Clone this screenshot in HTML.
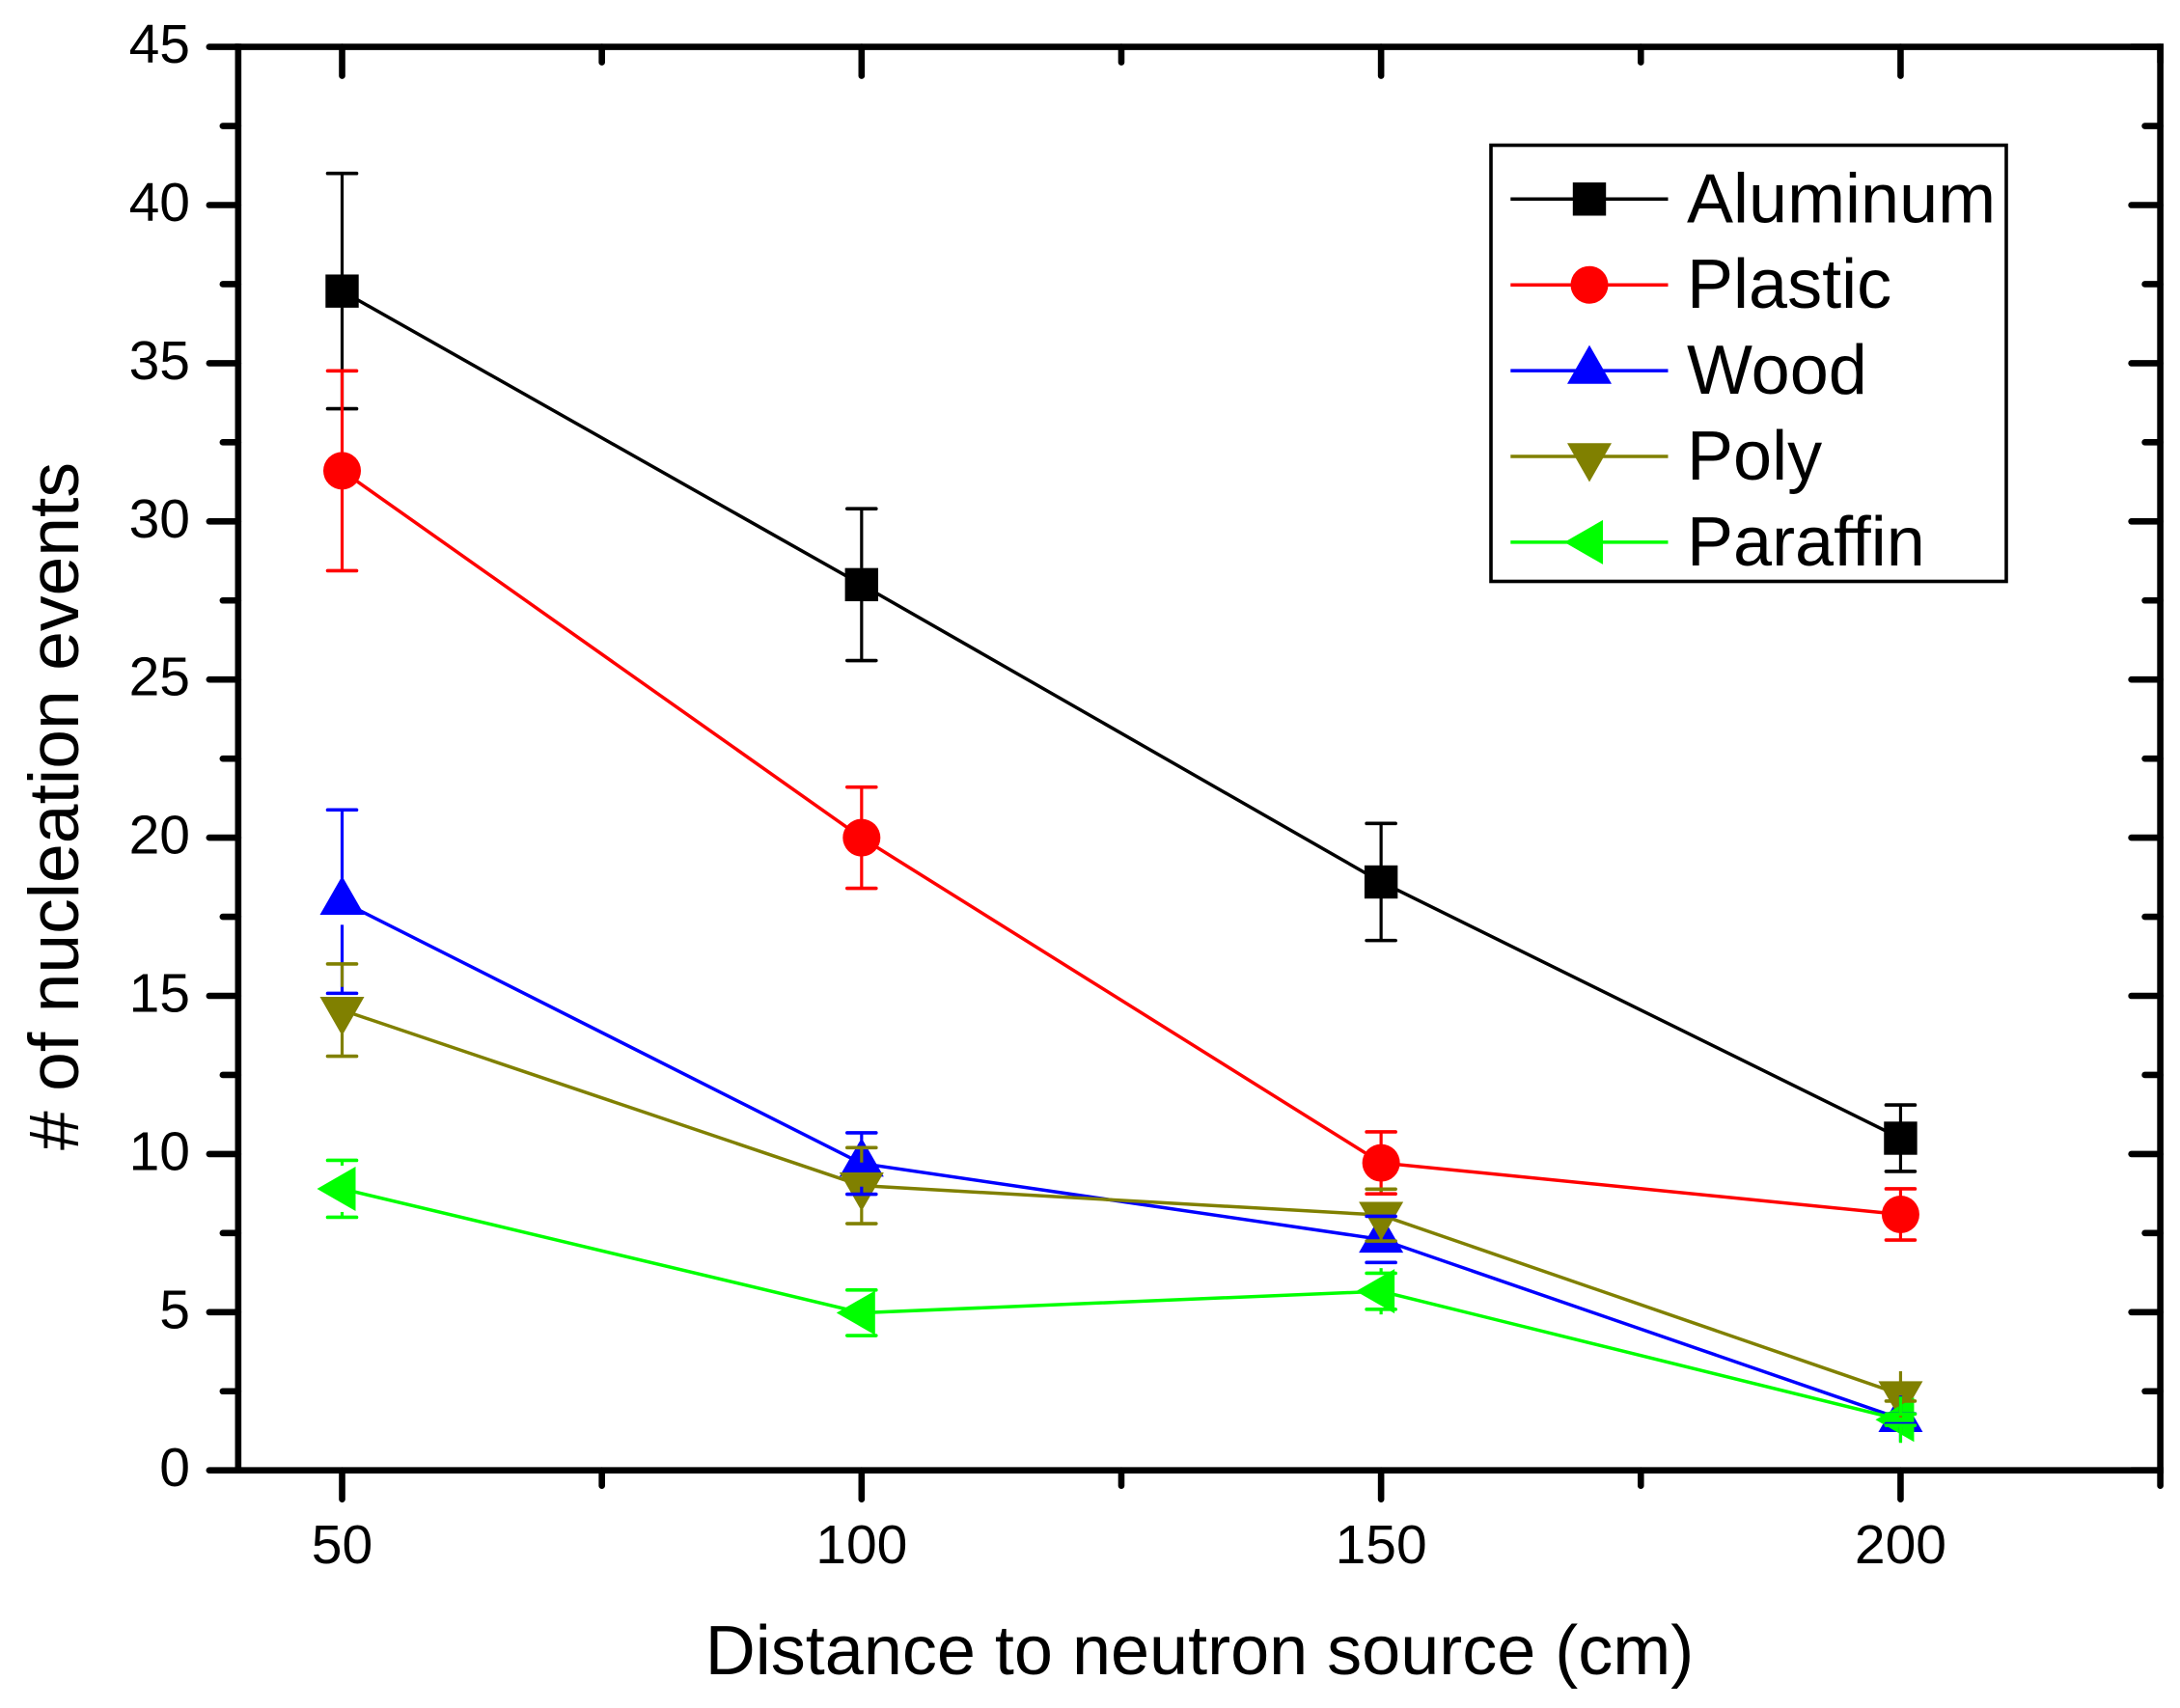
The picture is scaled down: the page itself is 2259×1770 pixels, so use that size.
<!DOCTYPE html>
<html lang="en">
<head>
<meta charset="utf-8">
<title>Nucleation events vs. distance to neutron source</title>
<style>
  html, body { margin: 0; padding: 0; background: #ffffff; }
  body { width: 2259px; height: 1770px; overflow: hidden; }
  svg { display: block; }
  text { font-family: "Liberation Sans", Arial, sans-serif; fill: #000000; }
</style>
</head>
<body>
<svg id="chart" xmlns="http://www.w3.org/2000/svg" width="2259" height="1770" viewBox="0 0 2259 1770">
  <rect x="0" y="0" width="2259" height="1770" fill="#ffffff"/>
  <g id="marks"></g>
  <g id="bars"></g>
  <g id="axes"></g>
  <g id="legend"></g>
  <text x="1243" y="1735" font-size="72" text-anchor="middle">Distance to neutron source (cm)</text>
  <text x="0" y="0" font-size="73.3" text-anchor="middle" transform="translate(81 835.5) rotate(-90)"># of nucleation events</text>
</svg>
<script>
const distances = [50, 100, 150, 200];
const seriesNames = ['Aluminum', 'Plastic', 'Wood', 'Poly', 'Paraffin'];
const aluminumValues = [37.28, 28.0, 18.6, 10.5];
const aluminumErrors = [3.72, 2.4, 1.85, 1.05];
const plasticValues = [31.6, 20.0, 9.72, 8.09];
const plasticErrors = [3.16, 1.6, 0.98, 0.81];
const woodValues = [17.98, 9.7, 7.3, 1.63];
const woodErrors = [2.9, 0.97, 0.73, 0.16];
const polyValues = [14.55, 9.0, 8.07, 2.4];
const polyErrors = [1.46, 1.2, 0.82, 0.21];
const paraffinValues = [8.9, 4.98, 5.66, 1.6];
const paraffinErrors = [0.9, 0.72, 0.57, 0.18];
const xMajorTicks = [50, 100, 150, 200];
const xMinorTicks = [75, 125, 175, 225];
const yMajorTicks = [0, 5, 10, 15, 20, 25, 30, 35, 40, 45];
const yMinorTicks = [2.5, 7.5, 12.5, 17.5, 22.5, 27.5, 32.5, 37.5, 42.5];

const SVGNS = 'http://www.w3.org/2000/svg';
const xDomain = [40, 225];
const xRange = [246.84, 2238.6];
const yDomain = [0, 45];
const yRange = [1523.7, 48.6];
function xScale(v) { return xRange[0] + (v - xDomain[0]) * (xRange[1] - xRange[0]) / (xDomain[1] - xDomain[0]); }
function yScale(v) { return yRange[0] + (v - yDomain[0]) * (yRange[1] - yRange[0]) / (yDomain[1] - yDomain[0]); }

function make(tag, parent, attrs) {
  const el = document.createElementNS(SVGNS, tag);
  for (const k in attrs) el.setAttribute(k, attrs[k]);
  parent.appendChild(el);
  return el;
}

const seriesColors = ['#000000', '#ff0000', '#0000ff', '#808000', '#00ff00'];
const seriesShapes = ['square', 'circle', 'up', 'down', 'left'];
const seriesStemGaps = [17, 19, 24, 24, 24];
const seriesValues = [aluminumValues, plasticValues, woodValues, polyValues, paraffinValues];
const seriesErrors = [aluminumErrors, plasticErrors, woodErrors, polyErrors, paraffinErrors];

function drawMarker(parent, shape, cx, cy, color, name) {
  let el;
  if (shape === 'square') {
    el = make('rect', parent, { x: cx - 17.2, y: cy - 17.2, width: 34.4, height: 34.4, fill: color });
  } else if (shape === 'circle') {
    el = make('circle', parent, { cx: cx, cy: cy, r: 19.5, fill: color });
  } else if (shape === 'up') {
    el = make('polygon', parent, { points: [[cx, cy - 26.5], [cx + 23, cy + 13.7], [cx - 23, cy + 13.7]].join(' '), fill: color });
  } else if (shape === 'down') {
    el = make('polygon', parent, { points: [[cx, cy + 26.5], [cx + 23, cy - 13.7], [cx - 23, cy - 13.7]].join(' '), fill: color });
  } else {
    el = make('polygon', parent, { points: [[cx - 26, cy], [cx + 14, cy - 23], [cx + 14, cy + 23]].join(' '), fill: color });
  }
  
  
}

/* series lines and markers */
const marksLayer = document.getElementById('marks');
seriesNames.forEach(function (label, s) {
  const slug = label.toLowerCase();
  const values = seriesValues[s];
  const line = make('polyline', marksLayer, {
    points: values.map(function (v, i) { return xScale(distances[i]) + ',' + yScale(v); }).join(' '),
    fill: 'none', stroke: seriesColors[s], 'stroke-width': 3.5
  });
  
  
  values.forEach(function (v, i) {
    drawMarker(marksLayer, seriesShapes[s], xScale(distances[i]), yScale(v), seriesColors[s], slug + '-point-' + distances[i]);
  });
});

/* error bars: stems start a symbol-dependent gap away from the symbol centre */
const barsLayer = document.getElementById('bars');
seriesNames.forEach(function (label, s) {
  const slug = label.toLowerCase();
  const stemGap = seriesStemGaps[s];
  seriesValues[s].forEach(function (v, i) {
    const cx = xScale(distances[i]);
    const cy = yScale(v);
    const top = yScale(v + seriesErrors[s][i]);
    const bottom = yScale(v - seriesErrors[s][i]);
    const g = make('g', barsLayer, { stroke: seriesColors[s], fill: 'none' });
    
    
    make('line', g, { x1: cx, x2: cx, y1: cy - stemGap, y2: top, 'stroke-width': 3.2 });
    make('line', g, { x1: cx, x2: cx, y1: cy + stemGap, y2: bottom, 'stroke-width': 3.2 });
    make('line', g, { x1: cx - 15, x2: cx + 15, y1: top, y2: top, 'stroke-width': 3.6, 'stroke-linecap': 'round' });
    make('line', g, { x1: cx - 15, x2: cx + 15, y1: bottom, y2: bottom, 'stroke-width': 3.6, 'stroke-linecap': 'round' });
  });
});

/* axes */
const axesLayer = document.getElementById('axes');
const axisWidth = 6.6;
function axisLine(x1, y1, x2, y2, name, cap) {
  const el = make('line', axesLayer, { x1: x1, y1: y1, x2: x2, y2: y2, stroke: '#000000', 'stroke-width': axisWidth, 'stroke-linecap': cap });
  
  
}
const pl = xRange[0], pr = xRange[1], pb = yRange[0], pt = yRange[1];
axisLine(pl, pb, pl, pt, 'left-axis-line', 'square');
axisLine(pr, pb, pr, pt, 'right-axis-line', 'square');
axisLine(pl, pb, pr, pb, 'bottom-axis-line', 'square');
axisLine(pl, pt, pr, pt, 'top-axis-line', 'square');

xMajorTicks.forEach(function (v) {
  const x = xScale(v);
  axisLine(x, pb, x, pb + 30, 'x-major-tick-' + v, 'round');
  axisLine(x, pt, x, pt + 30, 'top-major-tick-' + v, 'round');
  const t = make('text', axesLayer, { x: x, y: 1620, 'font-size': 57, 'text-anchor': 'middle' });
  
  
  t.textContent = String(v);
});
xMinorTicks.forEach(function (v) {
  const x = xScale(v);
  axisLine(x, pb, x, pb + 16, 'x-minor-tick-' + v, 'round');
  axisLine(x, pt, x, pt + 16, 'top-minor-tick-' + v, 'round');
});
yMajorTicks.forEach(function (v) {
  const y = yScale(v);
  axisLine(pl, y, pl - 30, y, 'y-major-tick-' + v, 'round');
  axisLine(pr, y, pr - 30, y, 'right-major-tick-' + v, 'round');
  const t = make('text', axesLayer, { x: 197, y: y + 16.5, 'font-size': 57, 'text-anchor': 'end' });
  
  
  t.textContent = String(v);
});
yMinorTicks.forEach(function (v) {
  const y = yScale(v);
  axisLine(pl, y, pl - 16, y, 'y-minor-tick-' + v, 'round');
  axisLine(pr, y, pr - 16, y, 'right-minor-tick-' + v, 'round');
});

/* legend */
const legendLayer = document.getElementById('legend');
const legendBox = make('rect', legendLayer, { x: 1545, y: 150.5, width: 534, height: 452, fill: '#ffffff', stroke: '#000000', 'stroke-width': 3.6 });


const legendTop = 206.3;
const legendStep = 88.9;
seriesNames.forEach(function (label, s) {
  const slug = label.toLowerCase();
  const ly = legendTop + s * legendStep;
  const g = make('g', legendLayer, {});
  
  
  const sw = make('line', g, { x1: 1565.3, x2: 1728.5, y1: ly, y2: ly, stroke: seriesColors[s], 'stroke-width': 3.5 });
  
  
  drawMarker(g, seriesShapes[s], 1647, ly, seriesColors[s], 'legend-marker-' + slug);
  const t = make('text', g, { x: 1748, y: ly + 24, 'font-size': 72 });
  
  
  t.textContent = label;
});
</script>
</body>
</html>
